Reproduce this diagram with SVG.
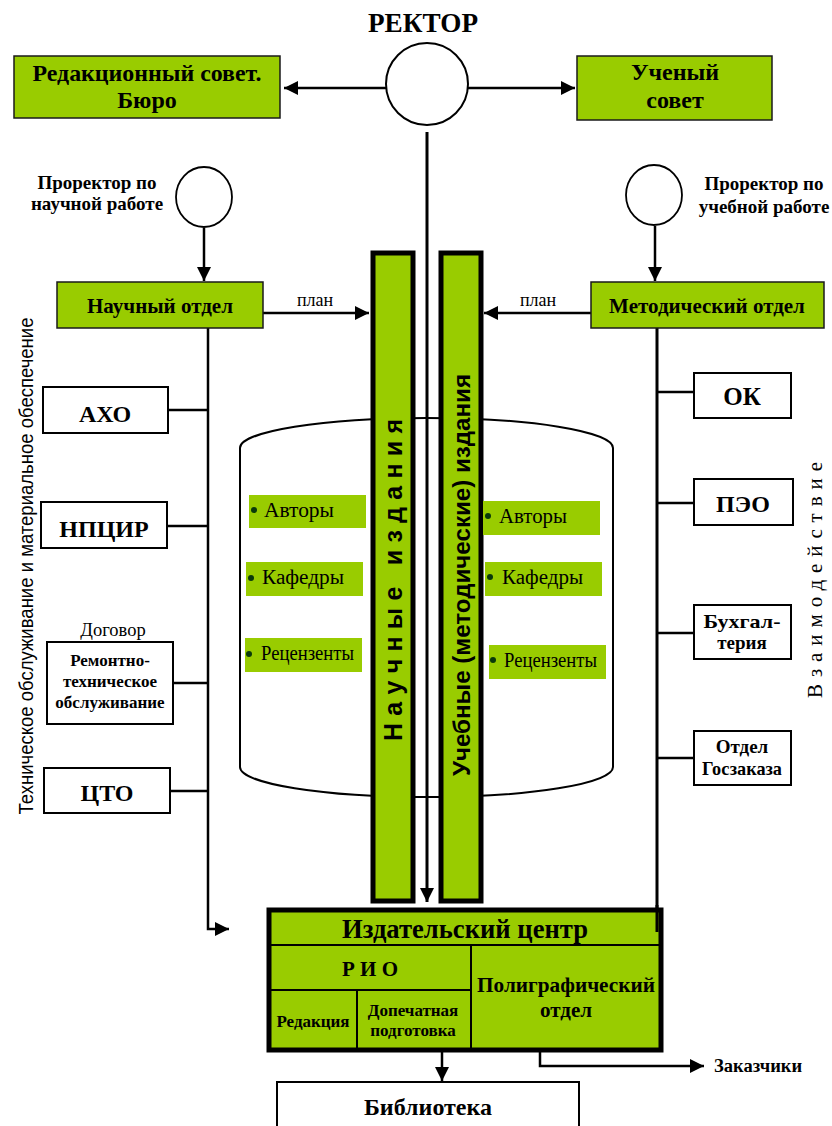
<svg xmlns="http://www.w3.org/2000/svg" width="832" height="1126" viewBox="0 0 832 1126">
<style>
.g{fill:#99CC00;stroke:#1a1a1a;stroke-width:1.5}
.w{fill:#fff;stroke:#000;stroke-width:2}
.col{fill:#99CC00;stroke:#000;stroke-width:5}
.c{fill:none;stroke:#000;stroke-width:2.5}
.cb{fill:none;stroke:#000;stroke-width:3}
.t{font-family:"Liberation Serif","Times New Roman",serif;fill:#000;text-anchor:middle}
.b{font-weight:bold}
.s{font-family:"Liberation Sans",Arial,sans-serif;fill:#000}
.lab{fill:#99CC00}
.dot{fill:#0a3a0a}
.li{font-family:"Liberation Serif","Times New Roman",serif;fill:#000;font-size:20px}
</style>
<defs>
<marker id="ah" viewBox="0 0 10 10" refX="10" refY="5" markerWidth="14" markerHeight="14" markerUnits="userSpaceOnUse" orient="auto"><path d="M0,0 L10,5 L0,10 z" fill="#000"/></marker>
</defs>

<g id="cylinder">
<path d="M240,767 L240,448 A186,30 0 0 1 613,448 L613,767 A186,30 0 0 1 240,767 Z" fill="#fff" stroke="#000" stroke-width="2"/>
</g>

<g id="connectors">
<line class="c" x1="386" y1="88" x2="284" y2="88" marker-end="url(#ah)"/>
<line class="c" x1="468" y1="88" x2="575" y2="88" marker-end="url(#ah)"/>
<line class="cb" x1="427" y1="132" x2="427" y2="902" marker-end="url(#ah)"/>
<line class="c" x1="204" y1="228" x2="204" y2="281" marker-end="url(#ah)"/>
<line class="c" x1="655" y1="226" x2="655" y2="281" marker-end="url(#ah)"/>
<line class="c" x1="263" y1="313" x2="369" y2="313" marker-end="url(#ah)"/>
<line class="c" x1="591" y1="313" x2="484" y2="313" marker-end="url(#ah)"/>
<polyline class="c" points="208,328 208,929 229,929" marker-end="url(#ah)"/>
<line class="cb" x1="657" y1="328" x2="657" y2="932"/>
<line class="c" x1="168" y1="410" x2="208" y2="410"/>
<line class="c" x1="167" y1="526" x2="208" y2="526"/>
<line class="c" x1="173" y1="683" x2="208" y2="683"/>
<line class="c" x1="170" y1="791" x2="208" y2="791"/>
<line class="c" x1="657" y1="392" x2="694" y2="392"/>
<line class="c" x1="657" y1="503" x2="694" y2="503"/>
<line class="c" x1="657" y1="633" x2="694" y2="633"/>
<line class="c" x1="657" y1="758" x2="694" y2="758"/>
<line class="c" x1="442" y1="1052" x2="442" y2="1081" marker-end="url(#ah)"/>
<polyline class="c" points="540,1049 540,1066 704,1066" marker-end="url(#ah)"/>
</g>

<g id="rector">
<text class="t b" x="423" y="32" font-size="28" textLength="110" lengthAdjust="spacingAndGlyphs">РЕКТОР</text>
<ellipse cx="427" cy="84" rx="41" ry="41" fill="#fff" stroke="#000" stroke-width="2"/>
</g>

<g id="redsovet">
<rect class="g" x="14" y="56" width="266" height="62"/>
<text class="t b" x="147" y="81" font-size="24" textLength="229" lengthAdjust="spacingAndGlyphs">Редакционный совет.</text>
<text class="t b" x="147" y="108" font-size="24">Бюро</text>
</g>

<g id="uchsovet">
<rect class="g" x="577" y="56" width="195" height="64"/>
<text class="t b" x="675" y="80" font-size="24">Ученый</text>
<text class="t b" x="675" y="108" font-size="24">совет</text>
</g>

<g id="prorector-nauch">
<ellipse cx="204" cy="197" rx="28" ry="30" fill="#fff" stroke="#000" stroke-width="1.8"/>
<text class="t b" x="97" y="189" font-size="19">Проректор по</text>
<text class="t b" x="97" y="210" font-size="19">научной работе</text>
</g>

<g id="prorector-ucheb">
<ellipse cx="654" cy="195" rx="28" ry="30" fill="#fff" stroke="#000" stroke-width="1.8"/>
<text class="t b" x="764" y="190" font-size="19">Проректор по</text>
<text class="t b" x="764" y="213" font-size="19">учебной работе</text>
</g>

<g id="nauch-otdel">
<rect class="g" x="57" y="282" width="206" height="46"/>
<text class="t b" x="160" y="313" font-size="21">Научный отдел</text>
<text class="t" x="315" y="306" font-size="18">план</text>
</g>

<g id="metod-otdel">
<rect class="g" x="591" y="282" width="233" height="46"/>
<text class="t b" x="707" y="313" font-size="21">Методический отдел</text>
<text class="t" x="538" y="306" font-size="18">план</text>
</g>

<g id="col-nauch">
<rect class="col" x="373" y="253" width="40" height="648"/>
<text class="s b" font-size="25" transform="translate(402,580) rotate(-90)" text-anchor="middle" textLength="322" lengthAdjust="spacing" xml:space="preserve">Н а у ч н ы е   и з д а н и я</text>
</g>

<g id="col-ucheb">
<rect class="col" x="441" y="253" width="40" height="648"/>
<text class="s b" font-size="24" transform="translate(470,575) rotate(-90)" text-anchor="middle" textLength="402" lengthAdjust="spacingAndGlyphs">Учебные (методические) издания</text>
</g>

<g id="labels-left">
<rect class="lab" x="249" y="495" width="117" height="33"/>
<circle class="dot" cx="254" cy="510" r="3"/>
<text class="li" x="264" y="517" textLength="70" lengthAdjust="spacingAndGlyphs">Авторы</text>
<rect class="lab" x="246" y="562" width="117" height="34"/>
<circle class="dot" cx="251" cy="578" r="3"/>
<text class="li" x="262" y="584" textLength="82" lengthAdjust="spacingAndGlyphs">Кафедры</text>
<rect class="lab" x="245" y="638" width="117" height="34"/>
<circle class="dot" cx="249" cy="654" r="3"/>
<text class="li" x="261" y="660" textLength="93" lengthAdjust="spacingAndGlyphs">Рецензенты</text>
</g>

<g id="labels-right">
<rect class="lab" x="483" y="501" width="117" height="34"/>
<circle class="dot" cx="488" cy="516" r="3"/>
<text class="li" x="499" y="523" textLength="68" lengthAdjust="spacingAndGlyphs">Авторы</text>
<rect class="lab" x="485" y="562" width="117" height="34"/>
<circle class="dot" cx="490" cy="577" r="3"/>
<text class="li" x="502" y="584" textLength="81" lengthAdjust="spacingAndGlyphs">Кафедры</text>
<rect class="lab" x="489" y="645" width="117" height="34"/>
<circle class="dot" cx="493" cy="660" r="3"/>
<text class="li" x="504" y="667" textLength="93" lengthAdjust="spacingAndGlyphs">Рецензенты</text>
</g>

<g id="axo">
<rect class="w" x="43" y="387" width="125" height="46"/>
<text class="t b" x="105" y="422" font-size="24">АХО</text>
</g>
<g id="npcir">
<rect class="w" x="41" y="502" width="126" height="46"/>
<text class="t b" x="104" y="537" font-size="24">НПЦИР</text>
</g>
<g id="remont">
<text class="t" x="113" y="636" font-size="18.5">Договор</text>
<rect class="w" x="47" y="642" width="126" height="82"/>
<text class="t b" x="110" y="666" font-size="17">Ремонтно-</text>
<text class="t b" x="110" y="687" font-size="17">техническое</text>
<text class="t b" x="110" y="708" font-size="17">обслуживание</text>
</g>
<g id="cto">
<rect class="w" x="44" y="768" width="126" height="45"/>
<text class="t b" x="107" y="801" font-size="24">ЦТО</text>
</g>
<g id="left-caption">
<text class="s" font-size="20" transform="translate(33,566) rotate(-90)" text-anchor="middle" textLength="497" lengthAdjust="spacingAndGlyphs">Техническое обслуживание и материальное обеспечение</text>
</g>

<g id="ok">
<rect class="w" x="694" y="373" width="97" height="45"/>
<text class="t b" x="742" y="405" font-size="25">ОК</text>
</g>
<g id="peo">
<rect class="w" x="694" y="479" width="99" height="46"/>
<text class="t b" x="743" y="512" font-size="24">ПЭО</text>
</g>
<g id="buh">
<rect class="w" x="694" y="605" width="97" height="54"/>
<text class="t b" x="742" y="628" font-size="19" textLength="77" lengthAdjust="spacingAndGlyphs">Бухгал-</text>
<text class="t b" x="742" y="649" font-size="19">терия</text>
</g>
<g id="goszakaz">
<rect class="w" x="694" y="731" width="97" height="54"/>
<text class="t b" x="742" y="753" font-size="19">Отдел</text>
<text class="t b" x="742" y="775" font-size="19" textLength="80" lengthAdjust="spacingAndGlyphs">Госзаказа</text>
</g>
<g id="right-caption">
<text class="t" font-size="21" transform="translate(822,580) rotate(-90)" text-anchor="middle" textLength="236" lengthAdjust="spacing">Взаимодействие</text>
</g>

<g id="izd-center">
<rect x="269" y="910" width="392" height="140" fill="#99CC00" stroke="#000" stroke-width="5"/>
<line x1="271" y1="945" x2="659" y2="945" stroke="#000" stroke-width="2"/>
<line x1="271" y1="990" x2="471" y2="990" stroke="#000" stroke-width="2"/>
<line x1="471" y1="945" x2="471" y2="1048" stroke="#000" stroke-width="2"/>
<line x1="357" y1="990" x2="357" y2="1048" stroke="#000" stroke-width="2"/>
<text class="t b" x="465" y="938" font-size="27" textLength="246" lengthAdjust="spacingAndGlyphs">Издательский центр</text>
<text class="t b" x="370" y="976" font-size="21">Р И О</text>
<text class="t b" x="566" y="992" font-size="21" textLength="178" lengthAdjust="spacingAndGlyphs">Полиграфический</text>
<text class="t b" x="566" y="1017" font-size="21">отдел</text>
<text class="t b" x="313" y="1027" font-size="17">Редакция</text>
<text class="t b" x="413" y="1016" font-size="17">Допечатная</text>
<text class="t b" x="413" y="1036" font-size="17">подготовка</text>
</g>
<line class="cb" x1="657" y1="905" x2="657" y2="932"/>

<g id="library">
<rect class="w" x="277" y="1082" width="302" height="60"/>
<text class="t b" x="428" y="1115" font-size="24">Библиотека</text>
</g>

<g id="customers">
<text x="714" y="1072" font-family="Liberation Serif, serif" font-weight="bold" font-size="18.5">Заказчики</text>
</g>
</svg>
